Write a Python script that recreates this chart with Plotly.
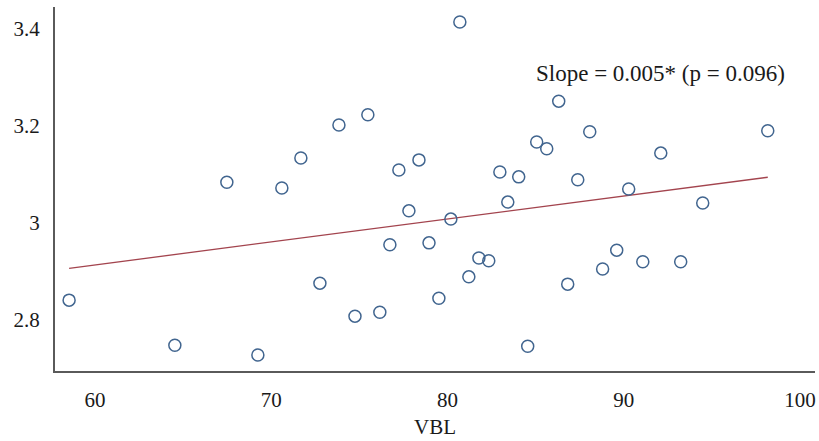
import plotly.graph_objects as go

vbl = [58.53, 64.53, 67.48, 69.24, 70.6, 71.68, 72.76, 73.84, 74.75, 75.48,
       76.16, 76.73, 77.24, 77.81, 78.38, 78.95, 79.51, 80.19, 80.7, 81.21,
       81.78, 82.34, 82.97, 83.42, 84.04, 84.55, 85.06, 85.63, 86.31, 86.82,
       87.39, 88.07, 88.8, 89.6, 90.28, 91.08, 92.1, 93.23, 94.48, 98.17]
score = [2.840, 2.747, 3.083, 2.727, 3.071, 3.133, 2.875, 3.201, 2.807, 3.222,
         2.815, 2.954, 3.108, 3.024, 3.129, 2.958, 2.844, 3.007, 3.413, 2.888,
         2.927, 2.921, 3.104, 3.042, 3.094, 2.745, 3.166, 3.152, 3.250, 2.873,
         3.088, 3.187, 2.904, 2.943, 3.069, 2.919, 3.143, 2.919, 3.040, 3.189]

trend_x = [58.53, 98.17]
trend_y = [2.9056, 3.0932]

y_ticks = [2.8, 3.0, 3.2, 3.4]
x_ticks = [60, 70, 80, 90, 100]
annotation_text = "Slope = 0.005* (p = 0.096)"
x_title = "VBL"

FONT = "Liberation Serif"

fig = go.Figure()
fig.add_trace(go.Scatter(
    x=trend_x, y=trend_y, mode="lines",
    line=dict(color="#A3444E", width=1.3),
    showlegend=False, hoverinfo="skip"))
fig.add_trace(go.Scatter(
    x=vbl, y=score, mode="markers",
    marker=dict(symbol="circle-open", size=12, color="#41658F",
                line=dict(width=1.5, color="#41658F")),
    showlegend=False))

fig.add_annotation(x=84.93, y=3.307, xref="x", yref="y", text=annotation_text,
                   showarrow=False, font=dict(family=FONT, size=23, color="#1a1a1a"),
                   xanchor="left", yanchor="middle")

fig.update_layout(
    width=819, height=441,
    margin=dict(l=55, r=4, t=7, b=70),
    paper_bgcolor="white", plot_bgcolor="white",
    font=dict(family=FONT, size=21, color="#1a1a1a"),
    xaxis=dict(range=[57.73, 100.85], tickvals=x_ticks, showgrid=False, zeroline=False,
               showline=True, linecolor="#5a5a5a", linewidth=2, ticks="",
               ticklabelstandoff=9,
               title=dict(text=x_title, font=dict(family=FONT, size=21), standoff=8)),
    yaxis=dict(range=[2.694, 3.444], tickvals=y_ticks, showgrid=False, zeroline=False,
               showline=True, linecolor="#5a5a5a", linewidth=2, ticks="",
               ticklabelstandoff=9),
)

fig.write_html("out.html")
